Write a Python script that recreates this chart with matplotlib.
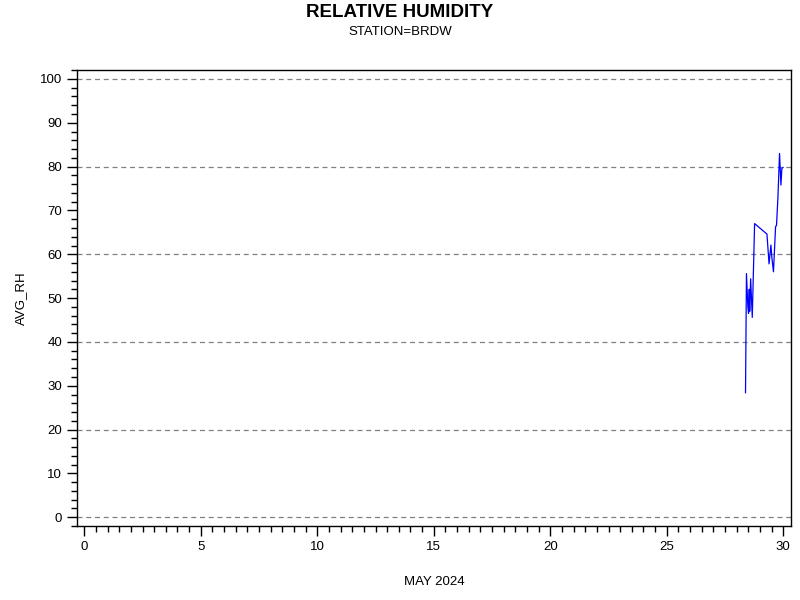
import matplotlib.pyplot as plt
from matplotlib.ticker import MultipleLocator

plt.rcParams['font.family'] = ['Liberation Sans', 'DejaVu Sans']

# day of May 2024 (fractional) and average relative humidity
day = [28.38, 28.42, 28.48, 28.51, 28.54, 28.56, 28.60, 28.67, 28.77,
       29.30, 29.39, 29.47, 29.51, 29.58, 29.67, 29.71, 29.77, 29.84,
       29.90, 29.94, 29.99]
avg_rh = [28.4, 55.6, 48.0, 46.5, 52.0, 47.0, 54.4, 45.6, 67.0,
          64.6, 57.8, 62.1, 59.3, 56.0, 66.3, 66.6, 72.8, 83.0,
          75.8, 79.6, 79.8]
ref_lines = [0, 20, 40, 60, 80, 100]

fig = plt.figure(figsize=(8, 6), dpi=100)
ax = fig.add_axes([0.0966, 0.123, 0.8918, 0.760])

# dashed reference lines every 20
for v in ref_lines:
    ax.axhline(v, linestyle=(0, (4, 3)), color='gray', linewidth=0.9, zorder=1)

ax.plot(day, avg_rh, color='blue', linewidth=0.9, zorder=2)

ax.set_xlim(-0.30, 30.32)
ax.set_ylim(-2.05, 102.0)
ax.xaxis.set_major_locator(MultipleLocator(5))
ax.xaxis.set_minor_locator(MultipleLocator(0.5))
ax.yaxis.set_major_locator(MultipleLocator(10))
ax.yaxis.set_minor_locator(MultipleLocator(2))
ax.tick_params(which='major', length=7, width=1, labelsize=9.5, pad=4)
ax.tick_params(which='minor', length=4, width=1)
for s in ax.spines.values():
    s.set_linewidth(1)

ax.set_xlabel("MAY 2024", fontsize=9.5, labelpad=16)
ax.set_ylabel("AVG_RH", fontsize=9.5, labelpad=9)

fig.text(0.5, 0.993, "RELATIVE HUMIDITY", ha='center', va='top', fontsize=13.5, fontweight='bold')
fig.text(0.5, 0.957, "STATION=BRDW", ha='center', va='top', fontsize=9.5)

fig.savefig("out.png", dpi=100)
